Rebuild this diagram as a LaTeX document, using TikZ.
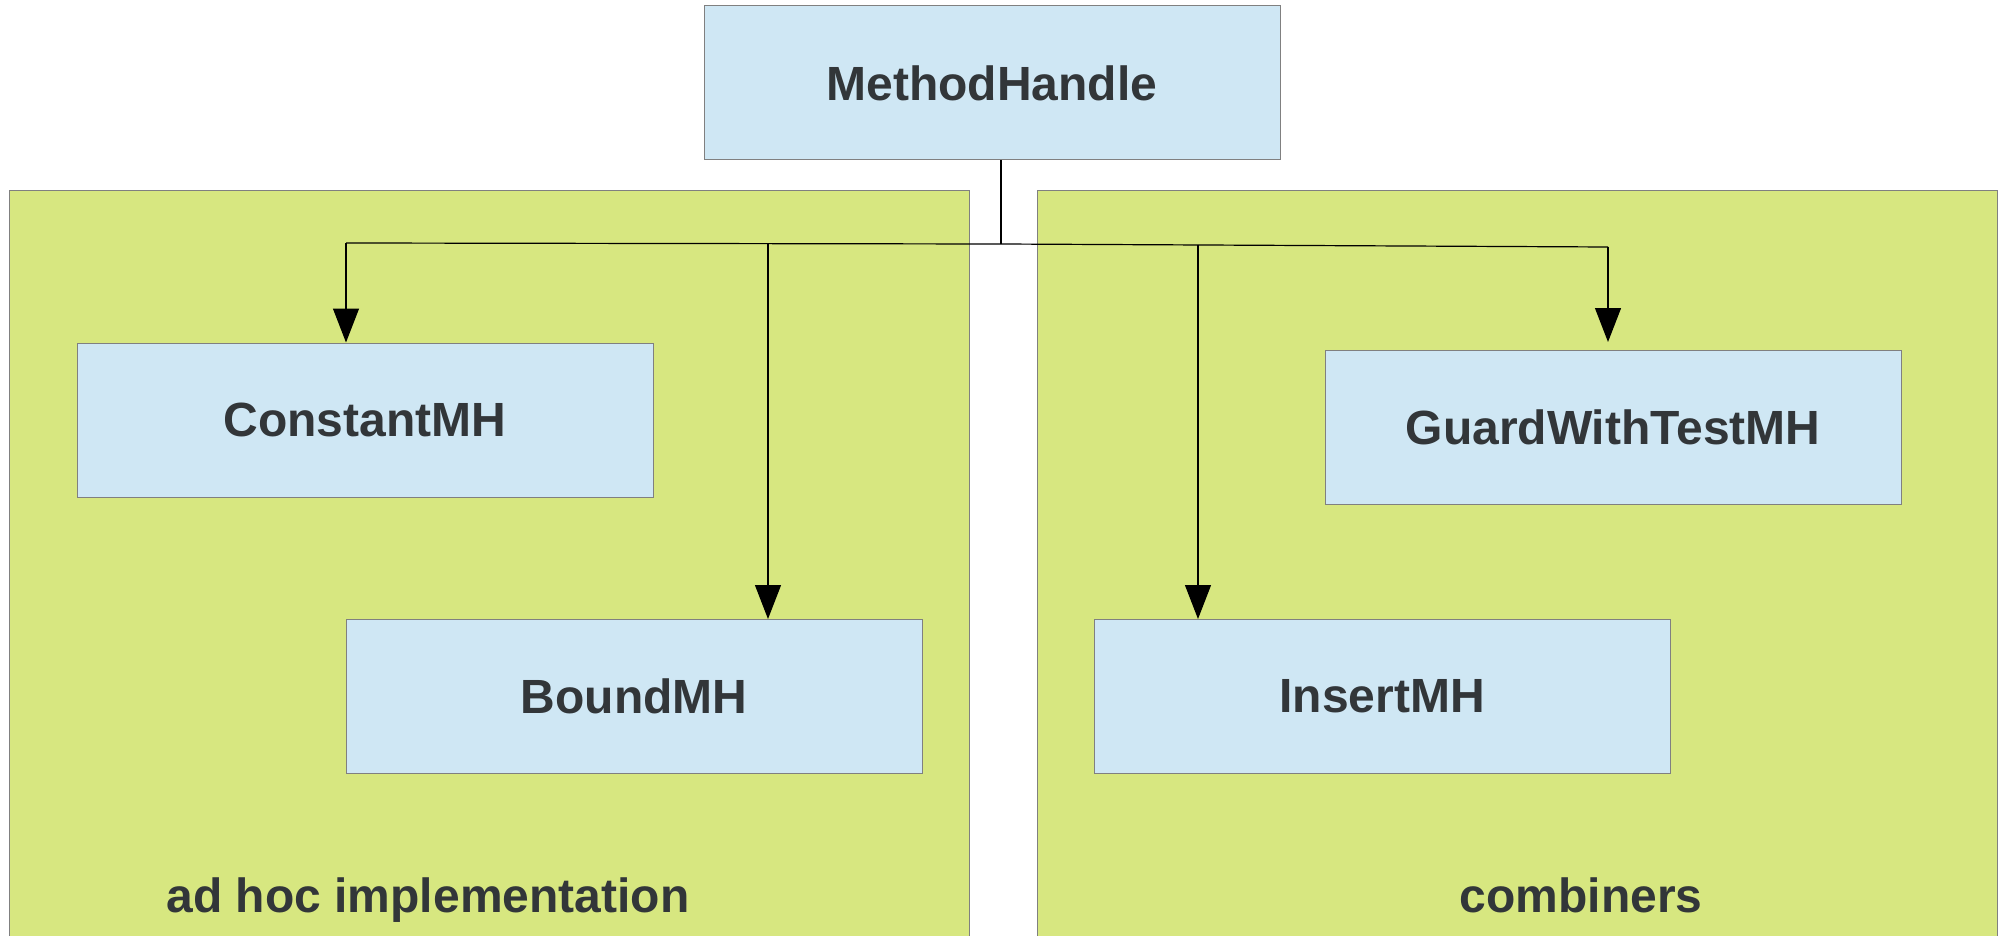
\documentclass[tikz,border=0pt]{standalone}
\usepackage{fontspec}
\setmainfont{Liberation Sans}
\usetikzlibrary{calc,arrows.meta,positioning}
\definecolor{boxBlue}{RGB}{207,231,244}
\definecolor{panelGreen}{RGB}{215,231,128}
\definecolor{edgeGrey}{RGB}{128,128,128}
\definecolor{textDark}{RGB}{50,54,57}
\tikzset{
  mhbox/.style={draw=edgeGrey,fill=boxBlue,line width=.5pt,minimum width=288pt,minimum height=77pt,inner sep=0pt,font=\fontsize{24}{28}\selectfont\bfseries,text=textDark},
  panel/.style={draw=edgeGrey,fill=panelGreen,line width=.5pt},
  grouplabel/.style={anchor=base,font=\fontsize{24}{28}\selectfont\bfseries,text=textDark},
  link/.style={line width=.6pt,draw=black},
  arr/.style={link,-{Triangle[length=17pt,width=13pt]}}
}

\begin{document}
\begin{tikzpicture}[x=0.5pt,y=-0.5pt]
\useasboundingbox (0,0) rectangle (2007,936);
% the two groups
\draw[panel] (9,191) rectangle (969,950);
\draw[panel] (1037,191) rectangle (1997,950);
\node[grouplabel] (adhoc) at (428,912) {ad hoc implementation};
\node[grouplabel] (comb) at (1581,912) {combiners};
% classes
\node[mhbox] (mh) at (992,83) {MethodHandle};
\node[mhbox] (cmh) at (365,420) {ConstantMH};
\node[mhbox] (bmh) at (634,696.5) {BoundMH};
\node[mhbox] (gwt) at (1613,427.5) {GuardWithTestMH};
\node[mhbox] (imh) at (1382,696.5) {InsertMH};
% links
\coordinate (bus) at (1001,244);
\coordinate (b1) at (346,243);
\coordinate (b2) at (768,244);
\coordinate (b3) at (1198,245);
\coordinate (b4) at (1608,247);
\draw[link] (mh.south -| bus) -- (bus);
\draw[link] (b1) -- (bus) -- (b4);
\draw[arr] (b1) -- (b1 |- cmh.north);
\draw[arr] (b2) -- (b2 |- bmh.north);
\draw[arr] (b3) -- (b3 |- imh.north);
\draw[arr] (b4) -- ($(b4 |- gwt.north)+(0,-8)$);
\end{tikzpicture}
\end{document}
